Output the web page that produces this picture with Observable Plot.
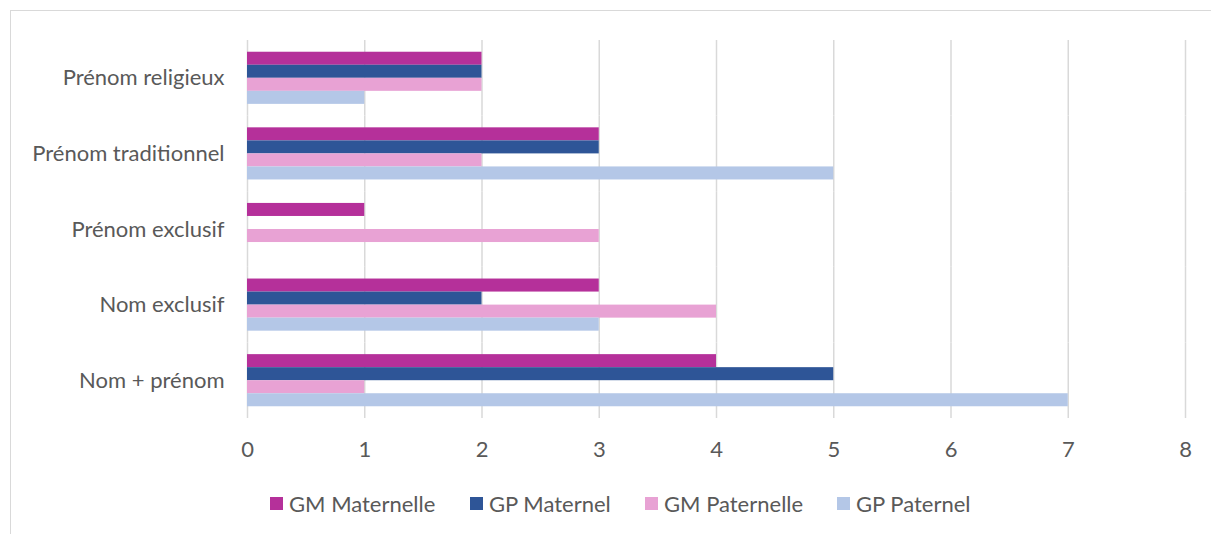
<!DOCTYPE html>
<html>
<head>
<meta charset="utf-8">
<script src="https://cdn.jsdelivr.net/npm/d3@7"></script>
<script src="https://cdn.jsdelivr.net/npm/@observablehq/plot@0.6"></script>
<style>
  html, body { margin: 0; padding: 0; background: #fff; }
  body { width: 1211px; height: 534px; position: relative; overflow: hidden; font-family: Lato, sans-serif; }
  #frame { position: absolute; left: 10px; top: 10px; width: 1300px; height: 600px; border-left: 1.5px solid #d9d9d9; border-top: 1.5px solid #d9d9d9; }
  #chart { position: absolute; left: 0; top: 0; }
  #legend { position: absolute; left: 0; top: 0; color: #595959; font-size: 22px; }
  .item { position: absolute; top: 489px; height: 28px; display: flex; align-items: center; white-space: nowrap; }
  .sw { width: 13px; height: 13px; margin-right: 6px; }
</style>
</head>
<body>
<div id="frame"></div>
<div id="chart"></div>
<div id="legend"></div>
<script>
const categories = ["Prénom religieux", "Prénom traditionnel", "Prénom exclusif", "Nom exclusif", "Nom + prénom"];
const series = ["GM Maternelle", "GP Maternel", "GM Paternelle", "GP Paternel"];
const gmMaternelle = [2, 3, 1, 3, 4];
const gpMaternel   = [2, 3, 0, 2, 5];
const gmPaternelle = [2, 2, 3, 4, 1];
const gpPaternel   = [1, 5, 0, 3, 7];
const xTicks = [0, 1, 2, 3, 4, 5, 6, 7, 8];
const colors = ["#B5309A", "#2E5597", "#E8A2D4", "#B4C7E7"];
const legendLeft = [270, 470, 645, 837];

const seriesValues = [gmMaternelle, gpMaternel, gmPaternelle, gpPaternel];
const data = [];
categories.forEach((c, i) => {
  series.forEach((s, j) => {
    data.push({category: c, series: s, value: seriesValues[j][i]});
  });
});

const chart = Plot.plot({
  width: 1211,
  height: 470,
  marginLeft: 247,
  marginRight: 26,
  marginTop: 40,
  marginBottom: 52,
  style: {fontFamily: "Lato, sans-serif", fontSize: "22px", color: "#595959", background: "transparent"},
  x: {domain: [0, 8], ticks: xTicks, tickSize: 0, tickPadding: 23, label: null, tickFormat: d => String(d)},
  fy: {domain: categories, padding: 0, round: false, label: null, tickSize: 0, tickPadding: 23},
  y: {domain: series, axis: null, paddingInner: 0, paddingOuter: 0.9, round: false},
  color: {domain: series, range: colors},
  marks: [
    Plot.gridX(xTicks, {stroke: "#d9d9d9", strokeOpacity: 1, strokeWidth: 1.5}),
    Plot.barX(data, {x: "value", y: "series", fy: "category", fill: "series"})
  ]
});
document.getElementById("chart").appendChild(chart);

const legend = document.getElementById("legend");
series.forEach((s, j) => {
  const it = document.createElement("div");
  it.className = "item";
  it.style.left = legendLeft[j] + "px";
  const sw = document.createElement("div");
  sw.className = "sw";
  sw.style.background = colors[j];
  const t = document.createElement("span");
  t.textContent = s;
  it.appendChild(sw);
  it.appendChild(t);
  legend.appendChild(it);
});
</script>
</body>
</html>
